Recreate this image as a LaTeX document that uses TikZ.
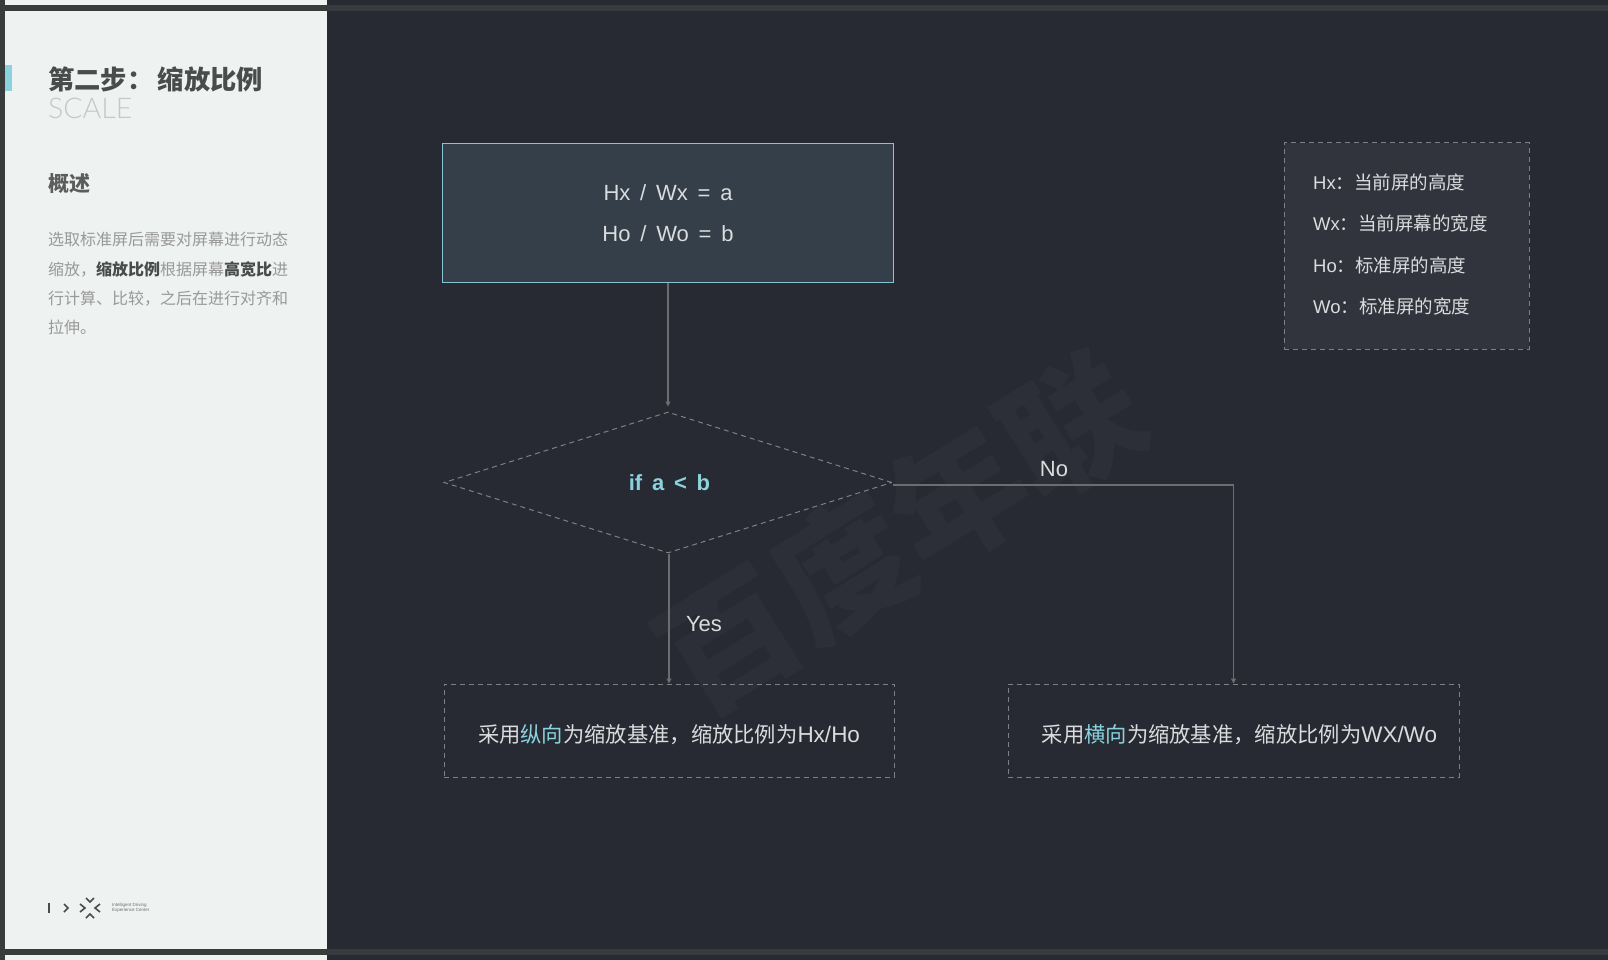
\documentclass[tikz,border=0pt]{standalone}
\usepackage{fontspec}
\setmainfont{Liberation Sans}
\newfontfamily\cjk{Noto Sans CJK SC}
\newfontfamily\thinlat[UprightFont=* Light]{Lato}
\newfontfamily\widelat[WordSpace=1.15]{Liberation Sans}
\newfontfamily\widerlat[WordSpace=1.6]{Liberation Sans}
\usetikzlibrary{arrows.meta, positioning, shapes.geometric, calc}
\definecolor{slidebg}{HTML}{272A33}
\definecolor{panelbg}{HTML}{EEF2F0}
\definecolor{frameedge}{HTML}{3A3C3C}
\definecolor{topband}{HTML}{383B3E}
\definecolor{accent}{HTML}{8AD3DE}
\definecolor{boxfill}{HTML}{343F49}
\definecolor{boxedge}{HTML}{86C3D3}
\definecolor{legendfill}{HTML}{31343D}
\definecolor{dashcol}{HTML}{7E8085}
\definecolor{linecol}{HTML}{6B6D73}
\definecolor{labelcol}{HTML}{DADCDD}
\definecolor{waterm}{HTML}{2C2F38}
\definecolor{titlecol}{HTML}{4A4C4C}
\newcommand{\hl}[1]{{\color{accent}#1}}
\newcommand{\boldpart}[1]{{\bfseries\color{titlecol}#1}}
\newcommand{\latpart}[1]{{\normalfont\fontsize{22.5}{26}\selectfont #1}}

\begin{document}
\begin{tikzpicture}[x=1pt, y=-1pt]
    % Define styles
    \tikzset{
        dashbox/.style={draw=dashcol, line width=1pt, dash pattern=on 5pt off 4pt, inner sep=0pt},
        link/.style={draw=linecol, line width=1.2pt, -{Triangle[length=5pt, width=5pt, fill=linecol]}},
        maintext/.style={text=labelcol, font=\cjk\fontsize{21.3}{26}\selectfont, inner sep=0pt, text height=25pt, text depth=2pt},
        branchtext/.style={text=labelcol, font=\fontsize{22}{26}\selectfont, inner sep=0pt},
        legendtext/.style={text=labelcol, font=\fontsize{18.5}{22}\selectfont, anchor=west, inner sep=0pt},
        logomark/.style={draw=titlecol, line width=1.6pt}
    }
    \useasboundingbox (0,0) rectangle (1608,960);

    % Page and left panel
    \fill[slidebg] (0,0) rectangle (1608,960);
    \fill[topband] (327,5) rectangle (1608,11);
    \fill[topband] (327,949) rectangle (1608,955);
    \fill[frameedge] (0,0) rectangle (327,960);
    \fill[panelbg] (5,0) rectangle (327,5);
    \fill[panelbg] (5,955) rectangle (327,960);
    \fill[panelbg] (5,11) rectangle (327,949);
    \fill[accent] (5,65) rectangle (12,91);

    % Watermark
    \node[rotate=32, text=waterm, inner sep=0pt, font=\cjk\bfseries\fontsize{135}{135}\selectfont] (mark) at (900,533) {百度年联};

    % Panel text
    \node[anchor=west, inner sep=0pt, text=titlecol, font=\cjk\bfseries\fontsize{26.3}{30}\selectfont] (title) at (48,79) {第二步：\,缩放比例};
    \node[anchor=west, inner sep=0pt, text=black!22, font=\thinlat\fontsize{28.5}{30}\selectfont] (scale) at (48,108) {SCALE};
    \node[anchor=west, inner sep=0pt, text=titlecol!90, font=\cjk\bfseries\fontsize{21}{26}\selectfont] (intro) at (48,184) {概述};
    \node[anchor=north west, inner sep=0pt, align=left, text=black!40, font=\cjk\fontsize{16}{29.3}\selectfont] (para) at (48,232) {选取标准屏后需要对屏幕进行动态\\缩放，\boldpart{缩放比例}根据屏幕\boldpart{高宽比}进\\行计算、比较，之后在进行对齐和\\拉伸。};

    % Logo
    \draw[logomark] (49,903) -- (49,913);
    \draw[logomark] (64,904) -- (68,908) -- (64,912);
    \draw[logomark] (80,904) -- (85,908) -- (80,912);
    \draw[logomark] (100,904) -- (95,908) -- (100,912);
    \draw[logomark] (86,898) -- (90,902) -- (94,898);
    \draw[logomark] (86,918) -- (90,914) -- (94,918);
    \node[anchor=west, inner sep=0pt, align=left, text=titlecol!80, font=\fontsize{4.5}{5.6}\selectfont] (logotext) at (112,908) {Intelligent Driving\\Experience Center};

    % Flow nodes
    \node[draw=boxedge, fill=boxfill, line width=1.8pt, minimum width=451pt, minimum height=139pt, inner sep=0pt, align=center, text=labelcol, font=\widelat\fontsize{22}{41}\selectfont] (ratio) at (668,213) {Hx / Wx = a\\Ho / Wo = b};
    \node[diamond, dashbox, minimum width=448pt, minimum height=141pt, aspect=3.18, text=accent, font=\widerlat\bfseries\fontsize{22}{26}\selectfont] (check) at (668,482.5) {\hspace{3pt}if a < b};
    \node[dashbox, minimum width=450pt, minimum height=93pt, maintext] (tall) at (669,730.5) {采用\hl{纵向}为缩放基准，缩放比例为\latpart{Hx/Ho}};
    \node[dashbox, minimum width=451pt, minimum height=93pt, maintext] (wide) at (1233.5,730.5) {\hspace{12pt}采用\hl{横向}为缩放基准，缩放比例为\latpart{WX/Wo}};

    % Legend
    \node[dashbox, fill=legendfill, minimum width=245pt, minimum height=206pt] (legend) at (1406.5,246) {};
    \node[legendtext] (hx) at (1313,182) {Hx{\cjk：当前屏的高度}};
    \node[legendtext] (wx) at (1313,224) {Wx{\cjk：当前屏幕的宽度}};
    \node[legendtext] (ho) at (1313,265) {Ho{\cjk：标准屏的高度}};
    \node[legendtext] (wo) at (1313,307) {Wo{\cjk：标准屏的宽度}};

    % Connections
    \draw[link, shorten >=5pt] (ratio.south) -- (check.north);
    \draw[link] (check.south -| tall.north) -- (tall.north);
    \draw[link] ($(check.east)+(0,2.5)$) -| (wide.north);

    % Branch labels
    \node[branchtext] (yes) at (704,624) {Yes};
    \node[branchtext] (no) at (1054,469) {No};
\end{tikzpicture}
\end{document}
